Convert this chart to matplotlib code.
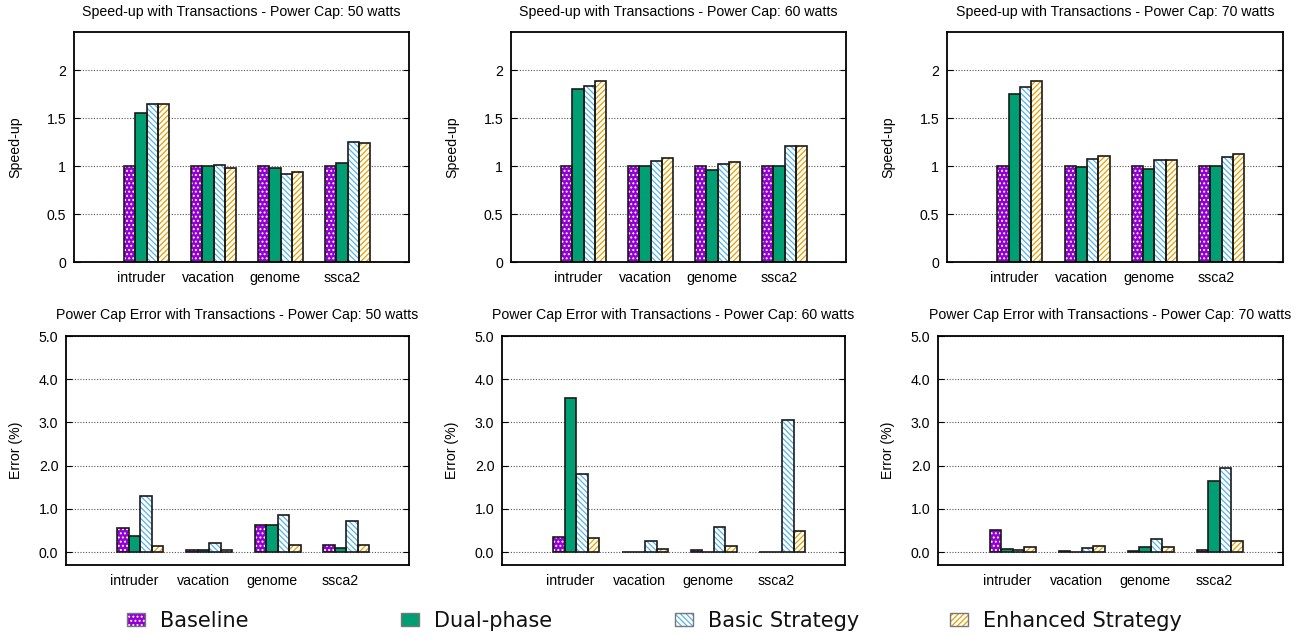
import numpy as np
import matplotlib
matplotlib.use("Agg")
import matplotlib.pyplot as plt
from matplotlib.patches import Rectangle

plt.rcParams["font.family"] = ["Liberation Sans", "DejaVu Sans"]
plt.rcParams["hatch.linewidth"] = 0.9

benchmarks = ["intruder", "vacation", "genome", "ssca2"]
series = ["Baseline", "Dual-phase", "Basic Strategy", "Enhanced Strategy"]
caps = [50, 60, 70]

# speed-up, one row per series (Baseline, Dual-phase, Basic, Enhanced)
speedup_50 = [
    [1.00, 1.00, 1.00, 1.00],
    [1.557, 0.997, 0.983, 1.031],
    [1.645, 1.007, 0.923, 1.247],
    [1.652, 0.983, 0.934, 1.240],
]
speedup_60 = [
    [1.00, 1.00, 1.00, 1.00],
    [1.805, 1.00, 0.956, 0.998],
    [1.839, 1.054, 1.019, 1.208],
    [1.892, 1.082, 1.040, 1.208],
]
speedup_70 = [
    [1.00, 1.00, 1.00, 1.00],
    [1.752, 0.995, 0.970, 1.005],
    [1.822, 1.072, 1.068, 1.092],
    [1.892, 1.103, 1.068, 1.124],
]

# power cap error (%)
error_50 = [
    [0.56, 0.05, 0.62, 0.17],
    [0.38, 0.05, 0.63, 0.10],
    [1.29, 0.22, 0.85, 0.72],
    [0.14, 0.05, 0.17, 0.17],
]
error_60 = [
    [0.35, 0.005, 0.05, 0.01],
    [3.56, 0.01, 0.005, 0.01],
    [1.81, 0.25, 0.58, 3.05],
    [0.32, 0.07, 0.13, 0.48],
]
error_70 = [
    [0.52, 0.03, 0.02, 0.05],
    [0.06, 0.01, 0.12, 1.64],
    [0.04, 0.09, 0.31, 1.94],
    [0.12, 0.13, 0.11, 0.25],
]

speedup_ticks = [0, 0.5, 1, 1.5, 2]
speedup_ticklabels = ["0", "0.5", "1", "1.5", "2"]
error_ticks = [0, 1, 2, 3, 4, 5]
error_ticklabels = ["0.0", "1.0", "2.0", "3.0", "4.0", "5.0"]

# style per series: face colour, hatch colour, hatch
styles = [
    ("#9400D3", "white", "...."),
    ("#009E73", "#009E73", None),
    ("white", "#56B4E9", "\\\\\\\\\\\\"),
    ("white", "#E69F00", "//////"),
]

W, H = 1307, 636
fig = plt.figure(figsize=(W / 100, H / 100), dpi=100)


def px_axes(left, right, top, bottom):
    return fig.add_axes([left / W, 1 - bottom / H, (right - left) / W, (bottom - top) / H])


def draw_panel(ax, data, title, ylabel, ylim, ticks, ticklabels, label_x, title_pad):
    x = np.arange(1, len(benchmarks) + 1)
    w = 0.168
    for i, vals in enumerate(data):
        face, hcol, hatch = styles[i]
        pos = x + 0.085 + (i - 1.5) * w
        ax.bar(pos, vals, w, color=face, edgecolor=hcol, hatch=hatch,
               linewidth=0, zorder=2)
        ax.bar(pos, vals, w, fill=False, edgecolor="#1a1a1a",
               linewidth=1.2, zorder=3)
    ax.set_xlim(0, 5)
    ax.set_ylim(*ylim)
    ax.set_xticks(x)
    ax.set_xticklabels(benchmarks, fontsize=10.2)
    ax.set_yticks(ticks)
    ax.set_yticklabels(ticklabels, fontsize=10.2)
    ax.tick_params(axis="x", length=0, pad=6.5)
    ax.tick_params(axis="y", direction="in", right=True, length=4, width=0.8, pad=5.5)
    ax.yaxis.grid(True, linestyle=(0, (1, 1.5)), color="#555555", linewidth=0.8, zorder=1)
    ax.set_axisbelow(True)
    for sp in ax.spines.values():
        sp.set_linewidth(1.3)
        sp.set_zorder(4)
    ax.set_title(title, fontsize=10.2, pad=title_pad)
    ax.set_ylabel(ylabel, fontsize=10.2)
    ax.yaxis.set_label_coords(label_x, 0.5)


top_cols = [(74, 409), (511, 846), (947, 1283)]
bot_cols = [(66, 409), (502, 845), (938, 1283)]
speedups = [speedup_50, speedup_60, speedup_70]
errors = [error_50, error_60, error_70]

for k, cap in enumerate(caps):
    ax = px_axes(top_cols[k][0], top_cols[k][1], 32, 262)
    draw_panel(ax, speedups[k], f"Speed-up with Transactions - Power Cap: {cap} watts",
               "Speed-up", (0, 2.4), speedup_ticks, speedup_ticklabels, -0.155, 11.5)
    ax = px_axes(bot_cols[k][0], bot_cols[k][1], 336, 565)
    draw_panel(ax, errors[k], f"Power Cap Error with Transactions - Power Cap: {cap} watts",
               "Error (%)", (-0.3, 5.0), error_ticks, error_ticklabels, -0.125, 12)

# legend along the bottom, evenly spaced entries
legend_x = [127, 401, 675, 950]
for i, name in enumerate(series):
    face, hcol, hatch = styles[i]
    x0 = legend_x[i]
    fig.patches.append(Rectangle((x0 / W, 10 / H), 18 / W, 13 / H, transform=fig.transFigure,
                                 facecolor=face, edgecolor=hcol, hatch=hatch, linewidth=0))
    fig.patches.append(Rectangle((x0 / W, 10 / H), 18 / W, 13 / H, transform=fig.transFigure,
                                 fill=False, edgecolor="#777777", linewidth=1.0))
    fig.text((x0 + 33) / W, 9 / H, name, fontsize=15, family="DejaVu Sans",
             va="baseline", ha="left", color="#111111")

fig.savefig("out.png", dpi=100)
